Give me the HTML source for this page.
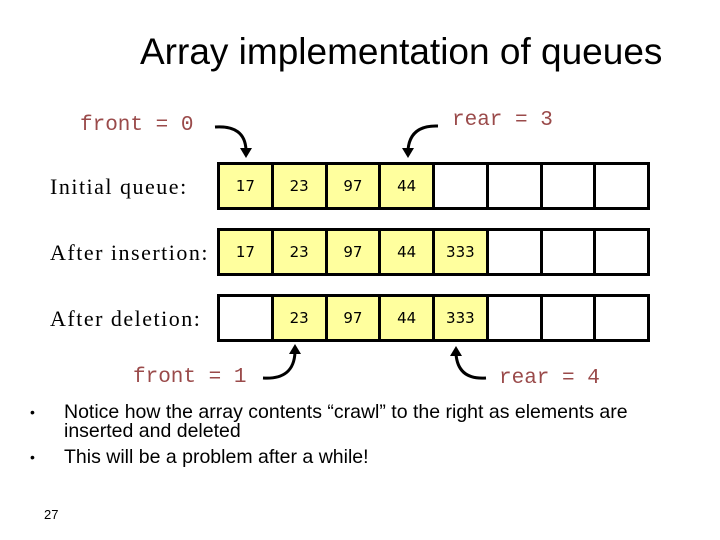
<!DOCTYPE html>
<html><head><style>
body{margin:0;width:720px;height:540px;background:#fff;position:relative;overflow:hidden;font-family:"Liberation Sans",sans-serif}
.t{position:absolute;white-space:nowrap}
.m{font-family:"Liberation Mono",monospace;color:#9a4a4a;font-size:21px}
.s{font-family:"Liberation Serif",serif;font-size:22px;letter-spacing:1.5px;color:#000}
.row{position:absolute;left:217px;width:433px;height:48px;border:3px solid #000;box-sizing:border-box;display:flex;background:#fff}
.row div{flex:1;border-right:3px solid #000;text-align:center;line-height:42px;font-family:"DejaVu Sans",sans-serif;font-size:15px}
.row div:last-child{border-right:none}
.y{background:#ffff9e}
</style></head><body>
<div class="t" style="left:140px;top:31px;font-size:37px;">Array implementation of queues</div>
<div class="t m" style="left:80px;top:114px;">front = 0</div>
<div class="t m" style="left:452px;top:109px;">rear = 3</div>
<div class="t m" style="left:133px;top:366px;">front = 1</div>
<div class="t m" style="left:499px;top:367px;">rear = 4</div>
<div class="t s" style="left:50px;top:174px;">Initial queue:</div>
<div class="t s" style="left:50px;top:240px;">After insertion:</div>
<div class="t s" style="left:50px;top:306px;">After deletion:</div>
<div class="row" style="top:162px"><div class="y">17</div><div class="y">23</div><div class="y">97</div><div class="y">44</div><div></div><div></div><div></div><div></div></div>
<div class="row" style="top:228px"><div class="y">17</div><div class="y">23</div><div class="y">97</div><div class="y">44</div><div class="y">333</div><div></div><div></div><div></div></div>
<div class="row" style="top:294px"><div></div><div class="y">23</div><div class="y">97</div><div class="y">44</div><div class="y">333</div><div></div><div></div><div></div></div>
<svg width="720" height="540" style="position:absolute;left:0;top:0">
<g fill="none" stroke="#000" stroke-width="3">
<path d="M215 127 Q245 125 246 150"/>
<path d="M438 126 Q410 125 408 150"/>
<path d="M263 378 Q294 380 295 352"/>
<path d="M486 378 Q458 380 456 354"/>
</g>
<g fill="#000">
<polygon points="240,148 252,148 246,158"/>
<polygon points="402,148 414,148 408,158"/>
<polygon points="289,354 301,354 295,344"/>
<polygon points="450,356 462,356 456,346"/>
</g>
</svg>
<div class="t" style="left:30px;top:404px;font-size:14px;">•</div>
<div class="t" style="left:64px;top:403px;font-size:19.5px;line-height:19px;">Notice how the array contents “crawl” to the right as elements are<br>inserted and deleted</div>
<div class="t" style="left:30px;top:449px;font-size:14px;">•</div>
<div class="t" style="left:64px;top:446px;font-size:19.5px;">This will be a problem after a while!</div>
<div class="t" style="left:44px;top:507px;font-size:13px;">27</div>
</body></html>
